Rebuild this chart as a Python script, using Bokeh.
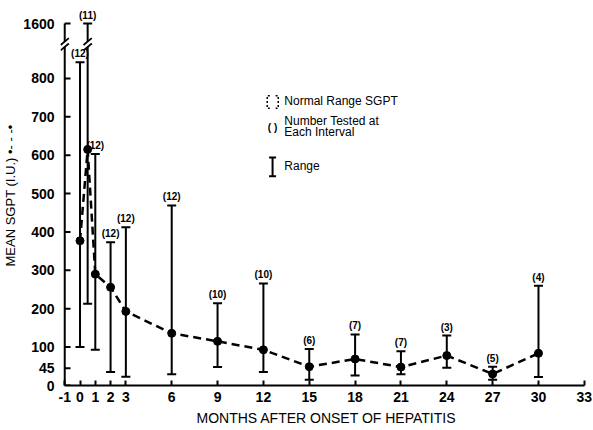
from bokeh.plotting import figure
from bokeh.models import FixedTicker, Range1d
from bokeh.core.properties import value
from bokeh.embed import file_html
from bokeh.resources import INLINE

# ---------------- data ----------------
months = [0, 0.5, 1, 2, 3, 6, 9, 12, 15, 18, 21, 24, 27, 30]
mean_sgpt = [377, 615, 290, 256, 193, 136, 115, 93, 49, 69, 48, 78, 30, 84]
range_low = [100, 213, 93, 35, 23, 29, 48, 35, 15, 26, 29, 46, 15, 22]
range_high = [842, 1600, 603, 373, 412, 469, 214, 266, 95, 133, 89, 130, 49, 260]
n_tested = [12, 11, 12, 12, 12, 12, 10, 10, 6, 7, 7, 3, 5, 4]

x_ticks = [-1, 0, 1, 2, 3, 6, 9, 12, 15, 18, 21, 24, 27, 30, 33]
y_ticks = [0, 45, 100, 200, 300, 400, 500, 600, 700, 800, 1600]

# broken y axis: identity up to BREAK_FROM, compressed above
BREAK_FROM = 880
TOP_SHOWN = 943          # where 1600 is drawn
TOP_VALUE = 1600


def disp(v):
    if v <= BREAK_FROM:
        return v
    return BREAK_FROM + (v - BREAK_FROM) * (TOP_SHOWN - BREAK_FROM) / (TOP_VALUE - BREAK_FROM)


FONT = "Liberation Sans"

p = figure(width=592, height=429, output_backend="svg", toolbar_location=None,
           x_range=Range1d(-1.277, 33.535), y_range=Range1d(0, 990),
           min_border_left=58, min_border_right=0, min_border_top=5, min_border_bottom=44)
p.outline_line_color = None
p.grid.visible = False
p.background_fill_color = "white"
p.border_fill_color = "white"

# x axis
xa = p.xaxis[0]
xa.ticker = FixedTicker(ticks=x_ticks)
xa.major_label_overrides = {-1: "-1"}
xa.bounds = (-1, 33)
xa.axis_line_width = 2
xa.axis_line_color = "black"
xa.major_tick_in = 5
xa.major_tick_out = 0
xa.major_tick_line_width = 2
xa.minor_tick_line_color = None
xa.major_label_text_font = FONT
xa.major_label_text_font_size = "14px"
xa.major_label_text_font_style = "bold"
xa.major_label_text_color = "black"
xa.major_label_standoff = 6
xa.axis_label = "MONTHS AFTER ONSET OF HEPATITIS"
xa.axis_label_text_font = FONT
xa.axis_label_text_font_size = "14px"
xa.axis_label_text_font_style = "normal"
xa.axis_label_text_color = "black"
xa.axis_label_standoff = 5

# y axis (labels only; line and ticks drawn at x = -1 below)
y_disp_ticks = [disp(v) for v in y_ticks]
ya = p.yaxis[0]
ya.ticker = FixedTicker(ticks=y_disp_ticks)
ya.major_label_overrides = {disp(TOP_VALUE): str(TOP_VALUE)}
ya.axis_line_color = None
ya.major_tick_line_color = None
ya.minor_tick_line_color = None
ya.major_label_text_font = FONT
ya.major_label_text_font_size = "14px"
ya.major_label_text_font_style = "bold"
ya.major_label_text_color = "black"
ya.major_label_standoff = 0
ya.axis_label = "MEAN SGPT (I.U.) \u2022- - -\u2022"
ya.axis_label_text_font = FONT
ya.axis_label_text_font_size = "13px"
ya.axis_label_text_font_style = "normal"
ya.axis_label_text_color = "black"
ya.axis_label_standoff = 2

AX = x_ticks[0]
TICK_LEN = 0.38
p.segment(x0=[AX], y0=[0], x1=[AX], y1=[disp(TOP_VALUE)], line_width=2, color="black")
p.segment(x0=[AX] * len(y_disp_ticks), y0=y_disp_ticks,
          x1=[AX + TICK_LEN] * len(y_disp_ticks), y1=y_disp_ticks, line_width=2, color="black")

# range bars
d_low = [disp(v) for v in range_low]
d_high = [disp(v) for v in range_high]
d_mean = [disp(v) for v in mean_sgpt]
p.segment(x0=months, y0=d_low, x1=months, y1=d_high, line_width=2, color="black")
p.scatter(months, d_high, marker="dash", size=9, line_width=2, color="black")
p.scatter(months, d_low, marker="dash", size=9, line_width=2, color="black")

# axis breaks (on the y axis and on the 0.5-month bar)
for bx in [AX, months[1]]:
    c1, c2, hw, hh = 882, 896, 0.27, 9
    p.patch([bx - hw, bx + hw, bx + hw, bx - hw],
            [c1 - hh, c1 + hh, c2 + hh, c2 - hh], fill_color="white", line_color=None)
    p.segment(x0=[bx - hw, bx - hw], y0=[c1 - hh, c2 - hh],
              x1=[bx + hw, bx + hw], y1=[c1 + hh, c2 + hh], line_width=1.8, color="black")

# mean line
p.line(months, d_mean, line_dash="8 5", line_width=2.5, color="black")
p.scatter(months, d_mean, marker="circle", size=8, color="black")

# number tested labels
p.text(months, d_high, text=[f"({n})" for n in n_tested], y_offset=-3,
       text_align="center", text_baseline="bottom", text_font=value(FONT),
       text_font_size="10px", text_font_style="bold", text_color="black")

# ---------------- key ----------------
LX = 12.25
RX = 12.97
TX = 13.37
# dotted bracket
p.multi_line(xs=[[LX + 0.17, LX, LX, LX + 0.17], [RX - 0.17, RX, RX, RX - 0.17]],
             ys=[[755, 755, 722, 722], [755, 755, 722, 722]],
             line_dash="2 2", line_width=1.5, color="black")
p.text([TX], [740], text=["Normal Range SGPT"], text_baseline="middle",
       text_font=value(FONT), text_font_size="12px", text_color="black")
p.text([12.6], [672], text=["( )"], text_baseline="middle", text_align="center",
       text_font=value(FONT), text_font_size="10px", text_font_style="bold", text_color="black")
p.text([TX], [690], text=["Number Tested at"], text_baseline="middle",
       text_font=value(FONT), text_font_size="12px", text_color="black")
p.text([TX], [661], text=["Each Interval"], text_baseline="middle",
       text_font=value(FONT), text_font_size="12px", text_color="black")
p.segment(x0=[12.6], y0=[545], x1=[12.6], y1=[594], line_width=2, color="black")
p.scatter([12.6, 12.6], [545, 594], marker="dash", size=7, line_width=2, color="black")
p.text([TX], [572], text=["Range"], text_baseline="middle",
       text_font=value(FONT), text_font_size="12px", text_color="black")

open("out.html", "w").write(file_html(p, INLINE))
